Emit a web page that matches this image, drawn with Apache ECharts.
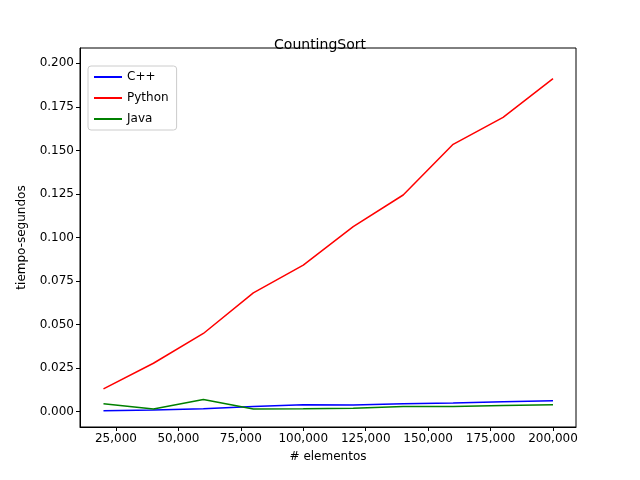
<!DOCTYPE html>
<html><head><meta charset="utf-8">
<script src="https://cdn.jsdelivr.net/npm/echarts@6/dist/echarts.min.js"></script>
<style>html,body{margin:0;background:#fff}#main{width:640px;height:480px}</style>
</head><body><div id="main"></div>
<script>
var sizes = [20000, 40000, 60000, 80000, 100000, 120000, 140000, 160000, 180000, 200000];
var cpp = [0.0005, 0.0010, 0.0017, 0.0030, 0.0040, 0.0038, 0.0045, 0.0050, 0.0057, 0.0063];
var python = [0.0131, 0.0278, 0.0449, 0.0682, 0.0841, 0.1062, 0.1244, 0.1535, 0.1690, 0.1912];
var java = [0.0045, 0.0015, 0.0070, 0.0015, 0.0017, 0.0020, 0.0030, 0.0030, 0.0035, 0.0040];
var xTicks = [25000, 50000, 75000, 100000, 125000, 150000, 175000, 200000];
var yTicks = [0, 0.025, 0.05, 0.075, 0.1, 0.125, 0.15, 0.175, 0.2];

function pairs(v) { return sizes.map(function (s, i) { return [s, v[i]]; }); }
var font = 'DejaVu Sans';
var myChart = echarts.init(document.getElementById('main'));
var option = {
    animation: false,
    textStyle: {fontFamily: font},
    title: {text: 'CountingSort', left: 'center', top: 33, textStyle: {fontFamily: font, fontSize: 14, fontWeight: 'normal', color: '#000'}},
    legend: {
        orient: 'vertical', left: 88, top: 66, itemWidth: 28, itemHeight: 2, itemGap: 9,
        borderColor: '#ccc', borderWidth: 1, borderRadius: 3, padding: [5, 8, 5, 6],
        textStyle: {fontFamily: font, fontSize: 12, color: '#000'},
        data: ['C++', 'Python', 'Java'], icon: 'rect'
    },
    grid: {left: 80, right: 64, top: 48, bottom: 53},
    xAxis: {
        type: 'value', min: 10600, max: 209200,
        name: '# elementos', nameLocation: 'middle', nameGap: 24,
        nameTextStyle: {fontFamily: font, fontSize: 12, color: '#000'},
        axisLine: {onZero: false, lineStyle: {color: '#000'}},
        axisTick: {show: true, length: 4, customValues: xTicks, lineStyle: {color: '#000'}},
        axisLabel: {customValues: xTicks, color: '#000', fontSize: 12, margin: 6},
        splitLine: {show: false}
    },
    yAxis: {
        type: 'value', min: -0.0088, max: 0.2088,
        name: 'tiempo-segundos', nameLocation: 'middle', nameGap: 52,
        nameTextStyle: {fontFamily: font, fontSize: 12, color: '#000'},
        axisLine: {show: true, onZero: false, lineStyle: {color: '#000'}},
        axisTick: {show: true, length: 4, customValues: yTicks, lineStyle: {color: '#000'}},
        axisLabel: {customValues: yTicks, color: '#000', fontSize: 12, margin: 6,
            formatter: function (v) { return v.toFixed(3); }},
        splitLine: {show: false}
    },
    series: [
        {name: 'C++', type: 'line', data: pairs(cpp), symbol: 'none', color: '#0000ff', lineStyle: {width: 1.5}},
        {name: 'Python', type: 'line', data: pairs(python), symbol: 'none', color: '#ff0000', lineStyle: {width: 1.5}},
        {name: 'Java', type: 'line', data: pairs(java), symbol: 'none', color: '#008000', lineStyle: {width: 1.5}}
    ]
};
// frame on top and right like matplotlib
option.graphic = [{type: 'rect', shape: {x: 80, y: 48, width: 496, height: 379}, style: {fill: 'none', stroke: '#000', lineWidth: 1}, silent: true}];
myChart.setOption(option);
</script></body></html>
